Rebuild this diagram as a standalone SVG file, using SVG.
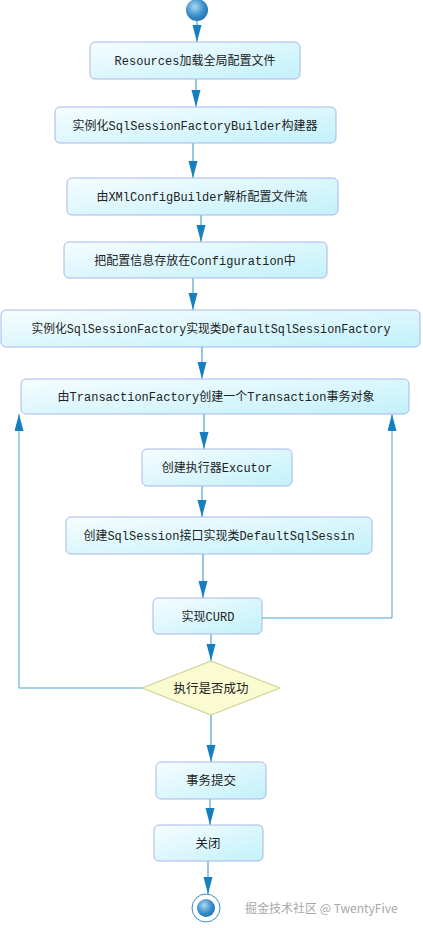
<svg xmlns="http://www.w3.org/2000/svg" width="423" height="928" viewBox="0 0 423 928">
<style>
.box{fill:url(#bg);stroke:#a9b6ea;stroke-width:1}
.t{font-family:"Liberation Mono","Noto Sans CJK SC",monospace;font-size:12px;fill:#222;text-anchor:middle}
.ts{font-family:"Noto Sans CJK SC","Liberation Sans",sans-serif;font-size:12.5px;fill:#222;text-anchor:middle}
.c{fill:none;stroke:#2a8fc6;stroke-width:1;marker-end:url(#ah)}
.lp{fill:none;stroke:#4aa0d2;stroke-width:1;marker-end:url(#ah)}
</style>
<defs>
<linearGradient id="bg" x1="0" y1="0" x2="1" y2="1">
<stop offset="0" stop-color="#f6fdff"/>
<stop offset="1" stop-color="#c2f1fa"/>
</linearGradient>
<radialGradient id="ball" cx="0.4" cy="0.35" r="0.7">
<stop offset="0" stop-color="#a9d8f2"/>
<stop offset="0.6" stop-color="#3b8fcb"/>
<stop offset="1" stop-color="#1f6fae"/>
</radialGradient>
<marker id="ah" markerUnits="userSpaceOnUse" markerWidth="18" markerHeight="10" refX="17" refY="4.5" orient="auto">
<path d="M0,0 L17,4.5 L0,9 Z" fill="#1580c0"/>
</marker>
</defs>

<g id="connectors">
<path class="c" d="M197,21 V42"/>
<path class="c" d="M196,79 V107"/>
<path class="c" d="M193,143 V178"/>
<path class="c" d="M201,215 V242"/>
<path class="c" d="M193,278 V310"/>
<path class="c" d="M202,347 V379"/>
<path class="c" d="M204,414 V449"/>
<path class="c" d="M202,486 V517"/>
<path class="c" d="M203,554 V598"/>
<path class="c" d="M211,634 V661"/>
<path class="c" d="M211,715 V762"/>
<path class="c" d="M210,799 V825"/>
<path class="c" d="M208,861 V894"/>
<path class="lp" d="M142,688 H19 V414"/>
<path class="lp" d="M262,618 H392 V414"/>
</g>

<g id="start"><circle cx="197" cy="10" r="11" fill="url(#ball)"/></g>

<g id="n1"><rect class="box" x="90" y="42" width="210" height="37" rx="5"/><text class="t" x="195" y="65">Resources加载全局配置文件</text></g>
<g id="n2"><rect class="box" x="55" y="107" width="281" height="36" rx="5"/><text class="t" x="195" y="130">实例化SqlSessionFactoryBuilder构建器</text></g>
<g id="n3"><rect class="box" x="67" y="178" width="271" height="37" rx="5"/><text class="t" x="202" y="201">由XMlConfigBuilder解析配置文件流</text></g>
<g id="n4"><rect class="box" x="64" y="242" width="263" height="36" rx="5"/><text class="t" x="195" y="265">把配置信息存放在Configuration中</text></g>
<g id="n5"><rect class="box" x="1" y="310" width="419" height="37" rx="5"/><text class="t" x="211" y="333" textLength="359" lengthAdjust="spacingAndGlyphs">实例化SqlSessionFactory实现类DefaultSqlSessionFactory</text></g>
<g id="n6"><rect class="box" x="21" y="379" width="388" height="35" rx="5"/><text class="t" x="216" y="401">由TransactionFactory创建一个Transaction事务对象</text></g>
<g id="n7"><rect class="box" x="142" y="449" width="150" height="37" rx="5"/><text class="t" x="217" y="472">创建执行器Excutor</text></g>
<g id="n8"><rect class="box" x="66" y="517" width="306" height="37" rx="5"/><text class="t" x="219" y="540">创建SqlSession接口实现类DefaultSqlSessin</text></g>
<g id="n9"><rect class="box" x="153" y="598" width="109" height="36" rx="5"/><text class="t" x="208" y="621">实现CURD</text></g>
<g id="n10"><path d="M142,688 L211,661 L280,688 L211,715 Z" fill="#fbfbd2" stroke="#c9c98e" stroke-width="1"/><text class="ts" x="211" y="693">执行是否成功</text></g>
<g id="n11"><rect class="box" x="156" y="762" width="110" height="37" rx="5"/><text class="ts" x="211" y="785">事务提交</text></g>
<g id="n12"><rect class="box" x="154" y="825" width="109" height="36" rx="5"/><text class="ts" x="208" y="848">关闭</text></g>
<g id="end"><circle cx="206" cy="908" r="14" fill="#fff" stroke="#3a8fc8" stroke-width="1"/><circle cx="206" cy="908" r="9" fill="url(#ball)"/></g>

<text x="245" y="913" font-family="Noto Sans CJK SC,Liberation Sans,sans-serif" font-size="12" fill="#a8a8a8">掘金技术社区 @ TwentyFive</text>
</svg>
